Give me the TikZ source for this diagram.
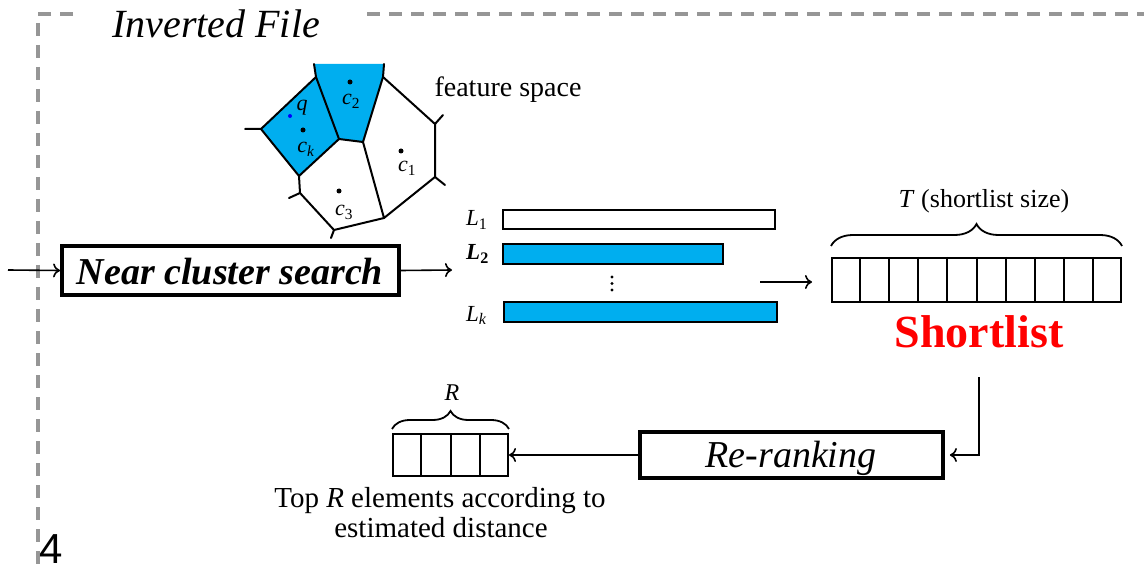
\documentclass[tikz,border=0pt]{standalone}
\usepackage{fontspec}
\setmainfont{Liberation Serif}
\newfontfamily\arialf{Liberation Sans}
\usetikzlibrary{arrows.meta,decorations.pathreplacing,calc}
\definecolor{cellblue}{RGB}{0,174,239}
\definecolor{framegray}{RGB}{150,150,150}
\definecolor{slred}{RGB}{255,0,0}
\newcommand\vlab[2]{\fontsize{22}{24}\selectfont\textit{#1}\textsubscript{#2}}
\begin{document}
\begin{tikzpicture}[x=1pt,y=-1pt,
  dashframe/.style={framegray,line width=3.5pt,dash pattern=on 13pt off 9pt},
  arr/.style={line width=1.6pt,-{To[length=7pt,width=14pt]}},
  bigbox/.style={draw,line width=3.8pt,inner sep=0pt,fill=white},
  barbox/.style={draw,line width=2.6pt,inner sep=0pt},
  cellrow/.style={draw,line width=2pt,inner sep=0pt},
  divider/.style={line width=2pt},
  voro/.style={line width=2pt,line join=round,line cap=round},
  brc/.style={line width=1.8pt,decorate},
  dotnode/.style={circle,fill=black,inner sep=0pt,minimum size=5pt},
  lab/.style={inner sep=0pt},
]
\useasboundingbox (0,0) rectangle (1144,572);
% frame
\draw[dashframe] (73,14) -- (38,14) -- (38,580);
\draw[dashframe] (367,14) -- (1150,14);
\node[lab,anchor=base] (title) at (216,38) {\fontsize{40}{44}\selectfont\itshape Inverted File};
\node[lab,anchor=base] (num) at (51,563) {\arialf\fontsize{42}{46}\selectfont 4};

% voronoi
\fill[cellblue] (314,64) -- (384,64) -- (383,77) -- (363,142) -- (339,139) -- (316,77) -- cycle;
\fill[cellblue] (316,77) -- (339,139) -- (299,176) -- (261,129) -- cycle;
\draw[voro] (314,64) -- (316,77) -- (339,139) -- (363,142) -- (383,77) -- (384,64);
\draw[voro] (383,77) -- (435,124) -- (443,115);
\draw[voro] (435,124) -- (435,177) -- (445,185);
\draw[voro] (435,177) -- (384,218) -- (363,142);
\draw[voro] (316,77) -- (261,129) -- (245,129);
\draw[voro] (261,129) -- (299,176) -- (339,139);
\draw[voro] (299,176) -- (300,193) -- (289,198);
\draw[voro] (300,193) -- (334,230) -- (384,218);
\draw[voro] (334,230) -- (331,238);
\node[dotnode] (dc2) at (350,82) {};
\node[dotnode] (dck) at (303,130) {};
\node[dotnode] (dc1) at (401,151) {};
\node[dotnode] (dc3) at (339,191) {};
\node[circle,fill=blue,inner sep=0pt,minimum size=4pt] (dq) at (290,116) {};
\node[lab,anchor=base] (lq) at (302,111) {\fontsize{22}{24}\selectfont\textit{q}};
\node[lab,anchor=base] (lc2) at (351,105) {\vlab{c}{2}};
\node[lab,anchor=base] (lck) at (306,153) {\vlab{c}{\textit{k}}};
\node[lab,anchor=base] (lc1) at (407,172) {\vlab{c}{1}};
\node[lab,anchor=base] (lc3) at (344,216) {\vlab{c}{3}};
\node[lab,anchor=base] (fs) at (508,97) {\fontsize{28}{32}\selectfont feature space};

% near cluster search
\coordinate (in) at (8,270);
\node[bigbox,minimum width=337pt,minimum height=49pt] (ncs) at (230.5,270.5) {};
\node[lab,anchor=base] (ncst) at (230,284) {\fontsize{38}{42}\selectfont\bfseries\itshape Near cluster search};
\draw[arr] (in) -- (ncs.west);
\coordinate (ncsout) at (452,270);
\draw[arr] (ncs.east) -- (ncsout);

% inverted lists
\node[barbox,minimum width=272pt,minimum height=19pt] (l1) at (639,219.5) {};
\node[barbox,fill=cellblue,minimum width=220pt,minimum height=20pt] (l2) at (613,254) {};
\node[barbox,fill=cellblue,minimum width=273pt,minimum height=20pt] (lk) at (640.5,312) {};
\node[lab,anchor=base west] (ll1) at (466,226) {\fontsize{23}{24}\selectfont\textit{L}\textsubscript{1}};
\node[lab,anchor=base west] (ll2) at (466,260) {\fontsize{23}{24}\selectfont\textbf{\textit{L}}\textsubscript{\textbf{2}}};
\node[lab,anchor=base west] (llk) at (466,321) {\fontsize{23}{24}\selectfont\textit{L}\textsubscript{\textit{k}}};
\foreach \yy in {277,283.5,290} \fill (612,\yy) circle (1.6pt);

% shortlist
\coordinate (lsout) at (760,282);
\coordinate (slin) at (812,282);
\draw[arr] (lsout) -- (slin);
\node[cellrow,minimum width=289pt,minimum height=44pt] (sl) at (976.5,280) {};
\foreach \i in {1,...,9}
  \draw[divider] ($(sl.north west)!\i/10!(sl.north east)$) -- ($(sl.south west)!\i/10!(sl.south east)$);
\draw[brc,decoration={brace,amplitude=22pt}] ([yshift=11pt]sl.north west) -- ([yshift=11pt]sl.north east);
\node[lab,anchor=base] (tl) at (984,208) {\fontsize{26}{30}\selectfont\textit{T} (shortlist size)};
\node[lab,anchor=base] (slt) at (979,347) {\fontsize{46}{50}\selectfont\bfseries\color{slred}Shortlist};

% re-ranking
\node[bigbox,minimum width=303pt,minimum height=46pt] (rr) at (791.5,455) {};
\node[lab,anchor=base] (rrt) at (791,467) {\fontsize{38}{42}\selectfont\itshape Re-ranking};
\coordinate (slout) at (979,377);
\draw[arr,shorten >=5pt] (slout) |- (rr.east);

% top R
\node[cellrow,minimum width=115pt,minimum height=42pt] (rc) at (450.5,455) {};
\foreach \i in {1,...,3}
  \draw[divider] ($(rc.north west)!\i/4!(rc.north east)$) -- ($(rc.south west)!\i/4!(rc.south east)$);
\draw[brc,decoration={brace,amplitude=18pt}] ([yshift=4pt]rc.north west) -- ([yshift=4pt]rc.north east);
\node[lab,anchor=base] (rl) at (452,400) {\fontsize{24}{26}\selectfont\textit{R}};
\draw[arr] (rr.west) -- (rc.east);
\node[lab,anchor=base] (top1) at (440,507) {\fontsize{29}{32}\selectfont Top \textit{R} elements according to};
\node[lab,anchor=base] (top2) at (441,537) {\fontsize{29}{32}\selectfont estimated distance};
\end{tikzpicture}
\end{document}
